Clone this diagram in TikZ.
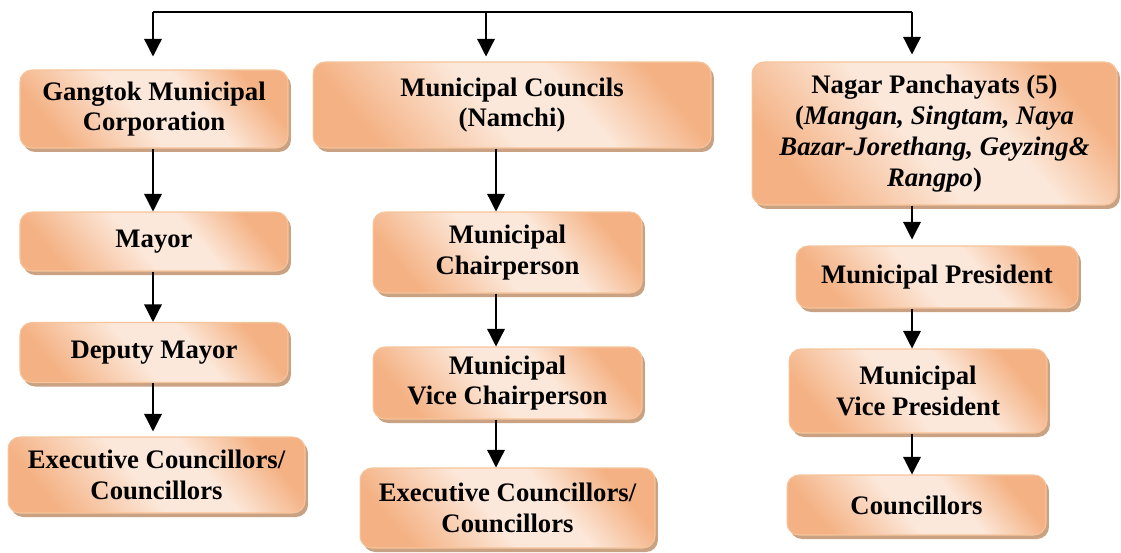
\documentclass[tikz,border=0pt]{standalone}
\usepackage{fontspec}
\setmainfont{Liberation Serif}
\usetikzlibrary{arrows.meta}
\usetikzlibrary{shadows}
\definecolor{peachdark}{HTML}{F4B183}
\definecolor{peachlight}{HTML}{FCE8DA}
\definecolor{peachedge}{HTML}{F6C49A}
\definecolor{shadowtan}{HTML}{C9A283}
\pgfdeclarehorizontalshading{peach}{100bp}{color(0bp)=(peachdark); color(25bp)=(peachdark);
  color(46bp)=(peachlight); color(60bp)=(peachlight); color(75bp)=(peachdark); color(100bp)=(peachdark)}
\tikzset{orgbox/.style = {rounded corners=0.24cm, draw=peachedge, line width=0.6pt,
                          shading=peach, shading angle=40,
                          drop shadow={shadow xshift=0.06cm, shadow yshift=-0.08cm,
                                       fill=shadowtan, opacity=1},
                          align=center, inner sep=2pt,
                          font=\fontsize{15.2}{17.5}\selectfont\bfseries},
         arr/.style = {-{Triangle[width=10pt,length=10pt]}, line width=0.75pt}}
\begin{document}
\begin{tikzpicture}[x=0.02cm, y=-0.02cm]
    \useasboundingbox (0, 0) rectangle (1121, 552);
    % first column
    \node (gmc) at (154, 109) [orgbox, minimum width=5.36cm, minimum height=1.56cm]
      {Gangtok Municipal\\Corporation};
    \node (mayor) at (154, 241.5) [orgbox, minimum width=5.36cm, minimum height=1.18cm] {Mayor};
    \node (dmayor) at (154, 352.5) [orgbox, minimum width=5.36cm, minimum height=1.2cm] {Deputy Mayor};
    \node (excl) at (156.5, 475) [orgbox, minimum width=5.94cm, minimum height=1.52cm]
      {Executive Councillors/\\Councillors};
    % second column
    \node (mcn) at (512, 105) [orgbox, minimum width=7.96cm, minimum height=1.72cm]
      {Municipal Councils\\(Namchi)};
    \node (chair) at (507.5, 252.5) [orgbox, minimum width=5.38cm, minimum height=1.62cm]
      {Municipal\\Chairperson};
    \node (vchair) at (507.5, 383) [orgbox, minimum width=5.38cm, minimum height=1.44cm]
      {Municipal\\Vice Chairperson};
    \node (excm) at (507.5, 508) [orgbox, minimum width=5.9cm, minimum height=1.6cm]
      {Executive Councillors/\\Councillors};
    % third column
    \node (nagar) at (934.5, 133.5) [orgbox, minimum width=7.3cm, minimum height=2.86cm]
      {Nagar Panchayats (5)\\(\textit{Mangan, Singtam, Naya}\\\textit{Bazar-Jorethang, Geyzing\&}\\\textit{Rangpo})};
    \node (pres) at (937, 277) [orgbox, minimum width=5.64cm, minimum height=1.24cm] {Municipal President};
    \node (vpres) at (918, 391) [orgbox, minimum width=5.16cm, minimum height=1.68cm]
      {Municipal\\Vice President};
    \node (counc) at (916.5, 505) [orgbox, minimum width=5.18cm, minimum height=1.2cm] {Councillors};
    % top connector
    \coordinate (tl) at (153, 12);
    \coordinate (tm) at (486, 12);
    \coordinate (tr) at (912, 12);
    \coordinate (mc) at (496, 0);
    \draw [line width=0.75pt] (tl) -- (tr);
    \draw [arr, shorten >=0.26cm] (tl) -- (tl |- gmc.north);
    \draw [arr, shorten >=0.1cm] (tm) -- (tm |- mcn.north);
    \draw [arr, shorten >=0.14cm] (tr) -- (tr |- nagar.north);
    \draw [arr] (gmc.south -| tl) -- (mayor.north -| tl);
    \draw [arr] (mayor.south -| tl) -- (dmayor.north -| tl);
    \draw [arr, shorten >=0.1cm] (dmayor.south -| tl) -- (excl.north -| tl);
    \draw [arr] (mcn.south -| mc) -- (chair.north -| mc);
    \draw [arr] (chair.south -| mc) -- (vchair.north -| mc);
    \draw [arr] (vchair.south -| mc) -- (excm.north -| mc);
    \draw [arr, shorten >=0.12cm] (nagar.south -| tr) -- (pres.north -| tr);
    \draw [arr] (pres.south -| tr) -- (vpres.north -| tr);
    \draw [arr] (vpres.south -| tr) -- (counc.north -| tr);
\end{tikzpicture}
\end{document}
